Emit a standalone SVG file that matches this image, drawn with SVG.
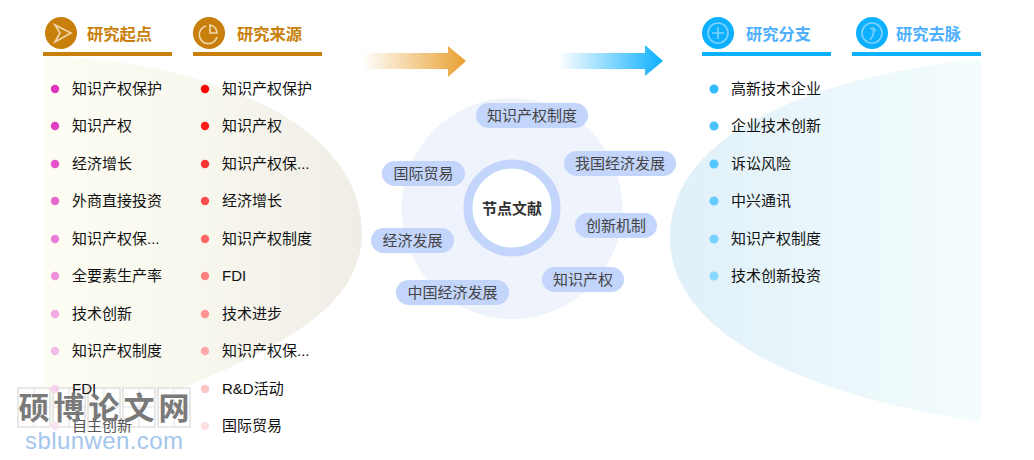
<svg xmlns="http://www.w3.org/2000/svg" width="1034" height="460" viewBox="0 0 1034 460">
<style>
text{font-family:"Liberation Sans","Noto Sans CJK SC",sans-serif}
.it{font-size:15px;fill:#111}
.fd{fill:#555}
.tag{font-size:15px;fill:#444;text-anchor:middle}
.h{font-size:16.3px;font-weight:700}
.o{fill:#c97f0c}.b{fill:#4fb0ff}
.pill{fill:#c3d5fb}
.ic{fill:none;stroke:#f0d9b0;stroke-width:1.6}
.ib{fill:none;stroke:#7fd0ff;stroke-width:1.6}
.wc{font-size:31px;font-weight:700;fill:#7a7a7a;text-anchor:middle}
.wb{fill:#fff;fill-opacity:.85;stroke:#d2d2d2;stroke-width:1}
.wl{stroke:#e2e2e2;stroke-width:1;fill:none}
</style>
<defs>
<linearGradient id="gl" x1="0" x2="1" y1="0" y2="0"><stop offset="0" stop-color="#fdfdf3"/><stop offset=".5" stop-color="#f8f7ee"/><stop offset="1" stop-color="#efede6"/></linearGradient>
<linearGradient id="gr" x1="0" x2="1" y1="0" y2="0"><stop offset="0" stop-color="#e0f0f9"/><stop offset="1" stop-color="#f4fdfd"/></linearGradient>
<linearGradient id="ao" x1="0" x2="1" y1="0" y2="0"><stop offset="0" stop-color="#e8a030" stop-opacity="0"/><stop offset="1" stop-color="#e8a030"/></linearGradient>
<linearGradient id="ab" x1="0" x2="1" y1="0" y2="0"><stop offset="0" stop-color="#0cb0ff" stop-opacity="0"/><stop offset="1" stop-color="#0cb0ff"/></linearGradient>
</defs>
<path d="M43 56C200 60 362 120 362 233C362 310 270 350 197 382C150 402 90 415 43 425Z" fill="url(#gl)"/>
<path d="M981 59C850 72 670 120 670 237C670 340 820 398 981 422Z" fill="url(#gr)"/>
<circle cx="512" cy="208.5" r="110.5" fill="#eef3fc"/>
<g id="arrows">
<path d="M362 53H448V46L466 61L448 77V69H362Z" fill="url(#ao)"/>
<path d="M558 53H645V45L663 61L645 76V69H558Z" fill="url(#ab)"/>
</g>
<g id="wm-boxes">
<rect x="18" y="388" width="32" height="39" class="wb"/><rect x="53" y="388" width="32" height="39" class="wb"/><rect x="88" y="388" width="32" height="39" class="wb"/><rect x="123" y="388" width="32" height="39" class="wb"/><rect x="158" y="388" width="32" height="39" class="wb"/>
<path class="wl" d="M34 388V427M69 388V427M104 388V427M139 388V427M174 388V427M18 407H50M53 407H85M88 407H120M123 407H155M158 407H190"/>
</g>
<g id="h1"><circle cx="61" cy="33" r="16" class="o"/><path class="ic" d="M55 25L71 33L55 42L60 33Z"/><rect x="43" y="52" width="129" height="4" class="o"/><text x="87" y="40" class="h o">研究起点</text></g>
<g id="h2"><circle cx="209" cy="33" r="16" class="o"/><path class="ic" d="M206 26A9 9 0 1 0 217 37"/><path class="ic" d="M210 25A8 8 0 0 1 217 33H210Z"/><rect x="193" y="52" width="129" height="4" class="o"/><text x="237" y="40" class="h o">研究来源</text></g>
<g id="h3"><circle cx="718" cy="33" r="16" fill="#0cb0ff"/><circle cx="718" cy="33" r="10" class="ib"/><path class="ib" d="M718 27V39M712 33H724"/><rect x="702" y="52" width="129" height="4" fill="#0cb0ff"/><text x="746" y="40" class="h b">研究分支</text></g>
<g id="h4"><circle cx="872" cy="33" r="16" fill="#0cb0ff"/><circle cx="872" cy="33" r="10" class="ib"/><path class="ib" d="M870 40Q875 34 873 29M870 29L873 28L876 31"/><rect x="852" y="52" width="129" height="4" fill="#0cb0ff"/><text x="896" y="40" class="h b">研究去脉</text></g>
<g id="col1">
<circle cx="55" cy="89" r="4.2" fill="#e033c0"/><text x="72" y="94" class="it">知识产权保护</text>
<circle cx="55" cy="126" r="4.2" fill="#e040c4"/><text x="72" y="131" class="it">知识产权</text>
<circle cx="55" cy="164" r="4.2" fill="#e352c8"/><text x="72" y="169" class="it">经济增长</text>
<circle cx="55" cy="201" r="4.2" fill="#e868cf"/><text x="72" y="206" class="it">外商直接投资</text>
<circle cx="55" cy="239" r="4.2" fill="#ea7dd5"/><text x="72" y="244" class="it">知识产权保...</text>
<circle cx="55" cy="276" r="4.2" fill="#ee92dc"/><text x="72" y="281" class="it">全要素生产率</text>
<circle cx="55" cy="314" r="4.2" fill="#f0a8e2"/><text x="72" y="319" class="it">技术创新</text>
<circle cx="55" cy="351" r="4.2" fill="#f3bde8"/><text x="72" y="356" class="it">知识产权制度</text>
<circle cx="55" cy="389" r="4.2" fill="#f6d2ee"/><text x="72" y="394" class="it">FDI</text>
<circle cx="55" cy="426" r="4.2" fill="#f9e4f4"/><text x="72" y="431" class="it fd">自主创新</text>
</g>
<g id="col2">
<circle cx="205" cy="89" r="4.2" fill="#ff0000"/><text x="222" y="94" class="it">知识产权保护</text>
<circle cx="205" cy="126" r="4.2" fill="#ff1a1a"/><text x="222" y="131" class="it">知识产权</text>
<circle cx="205" cy="164" r="4.2" fill="#ff3333"/><text x="222" y="169" class="it">知识产权保...</text>
<circle cx="205" cy="201" r="4.2" fill="#ff4d4d"/><text x="222" y="206" class="it">经济增长</text>
<circle cx="205" cy="239" r="4.2" fill="#ff6666"/><text x="222" y="244" class="it">知识产权制度</text>
<circle cx="205" cy="276" r="4.2" fill="#ff8080"/><text x="222" y="281" class="it">FDI</text>
<circle cx="205" cy="314" r="4.2" fill="#ff9494"/><text x="222" y="319" class="it">技术进步</text>
<circle cx="205" cy="351" r="4.2" fill="#ffa9a9"/><text x="222" y="356" class="it">知识产权保...</text>
<circle cx="205" cy="389" r="4.2" fill="#ffc4c4"/><text x="222" y="394" class="it">R&amp;D活动</text>
<circle cx="205" cy="426" r="4.2" fill="#ffe0e0"/><text x="222" y="431" class="it">国际贸易</text>
</g>
<g id="col3">
<circle cx="714" cy="89" r="4.5" fill="#33bbff"/><text x="731" y="94" class="it">高新技术企业</text>
<circle cx="714" cy="126" r="4.5" fill="#48c2ff"/><text x="731" y="131" class="it">企业技术创新</text>
<circle cx="714" cy="164" r="4.5" fill="#55c7ff"/><text x="731" y="169" class="it">诉讼风险</text>
<circle cx="714" cy="201" r="4.5" fill="#66ccff"/><text x="731" y="206" class="it">中兴通讯</text>
<circle cx="714" cy="239" r="4.5" fill="#77d2ff"/><text x="731" y="244" class="it">知识产权制度</text>
<circle cx="714" cy="276" r="4.5" fill="#88d8ff"/><text x="731" y="281" class="it">技术创新投资</text>
</g>
<g id="center"><circle cx="512" cy="208" r="44" fill="#fff" stroke="#c3d5fb" stroke-width="9"/><text x="512" y="214" text-anchor="middle" font-size="15" font-weight="700" fill="#333">节点文献</text></g>
<g id="t1"><rect x="476" y="103" width="112" height="25" rx="12.5" class="pill"/><text x="532" y="121" class="tag">知识产权制度</text></g>
<g id="t2"><rect x="564" y="151" width="112" height="25" rx="12.5" class="pill"/><text x="620" y="169" class="tag">我国经济发展</text></g>
<g id="t3"><rect x="382" y="161" width="83" height="25" rx="12.5" class="pill"/><text x="423.5" y="179" class="tag">国际贸易</text></g>
<g id="t4"><rect x="575" y="213" width="82" height="25" rx="12.5" class="pill"/><text x="616" y="231" class="tag">创新机制</text></g>
<g id="t5"><rect x="371" y="228" width="83" height="25" rx="12.5" class="pill"/><text x="412.5" y="246" class="tag">经济发展</text></g>
<g id="t6"><rect x="542" y="267" width="82" height="25" rx="12.5" class="pill"/><text x="583" y="285" class="tag">知识产权</text></g>
<g id="t7"><rect x="396" y="280" width="113" height="25" rx="12.5" class="pill"/><text x="452.5" y="298" class="tag">中国经济发展</text></g>
<g id="wm">
<text x="34" y="419" class="wc">硕</text><text x="69" y="419" class="wc">博</text><text x="104" y="419" class="wc">论</text><text x="139" y="419" class="wc">文</text><text x="174" y="419" class="wc">网</text>
<text x="25" y="449" font-size="24" fill="#a3c6ec" textLength="158" style="font-family:'Liberation Sans',sans-serif">sblunwen.com</text>
</g>
</svg>
